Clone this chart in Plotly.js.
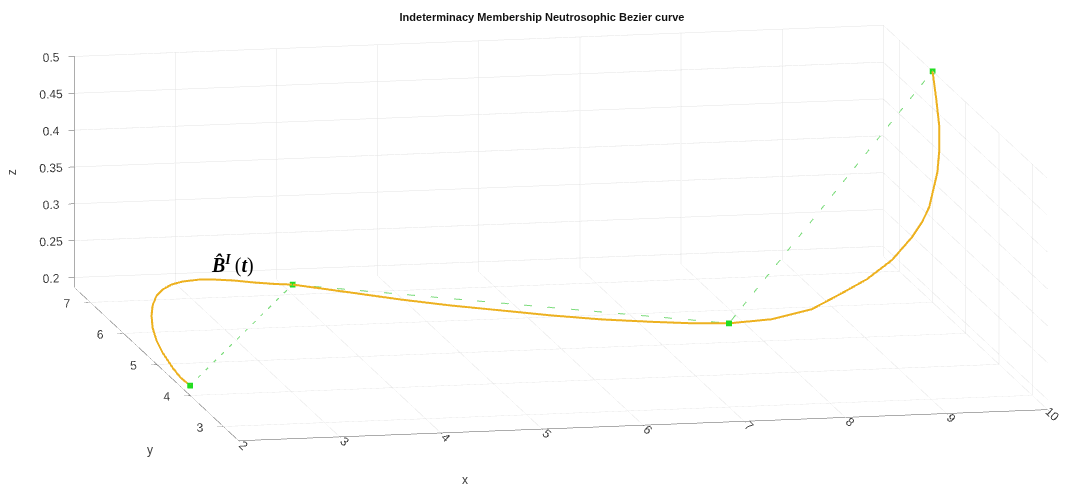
<!DOCTYPE html>
<html>
<head>
<meta charset="utf-8">
<script src="https://cdn.plot.ly/plotly-3.0.1.min.js"></script>
<style>
  html, body { margin: 0; padding: 0; background: #fff; }
  #chart { width: 1084px; height: 489px; }
</style>
</head>
<body>
<div id="chart"></div>
<script>
// Control points of the indeterminacy membership Bezier curve
const ctrlX = [2, 4, 7, 10];
const ctrlY = [4, 7, 3, 6];
const ctrlZ = [0.2, 0.2, 0.3, 0.5];

// Curve samples
const curveX = [2, 2.02, 2.05, 2.09, 2.13, 2.18, 2.25, 2.32, 2.42, 2.52, 2.65, 2.8, 3.0, 3.2, 3.45, 3.65, 3.83, 4,
  4.368, 4.687, 5.016, 5.356, 5.695, 6.045, 6.41, 6.707, 7,
  7.409, 7.818, 8.155, 8.424, 8.706, 8.945, 9.081, 9.189, 9.288, 9.387, 9.529, 9.666, 9.823, 10];
const curveY = [4, 4.348, 4.68, 5.102, 5.404, 5.677, 5.919, 6.101, 6.285, 6.407, 6.531, 6.654, 6.749, 6.904, 7.061, 7.065, 7.009, 7,
  6.382, 5.844, 5.337, 4.862, 4.386, 3.941, 3.543, 3.24, 3,
  2.961, 2.996, 3.115, 3.178, 3.283, 3.404, 3.516, 3.631, 3.812, 3.993, 4.362, 4.78, 5.347, 6];
const curveZ = [0.2, 0.1958, 0.1952, 0.1976, 0.201, 0.2069, 0.2127, 0.2183, 0.2236, 0.2261, 0.227, 0.2251, 0.2227, 0.2151, 0.2058, 0.2018, 0.2013, 0.2,
  0.2133, 0.2248, 0.2363, 0.2478, 0.2593, 0.2708, 0.2823, 0.2915, 0.3,
  0.305, 0.315, 0.33, 0.345, 0.365, 0.39, 0.405, 0.42, 0.435, 0.45, 0.465, 0.478, 0.49, 0.5];

// Axis ticks
const xTicks = [2, 3, 4, 5, 6, 7, 8, 9, 10];
const yTicks = [3, 4, 5, 6, 7];
const zTicks = [0.2, 0.25, 0.3, 0.35, 0.4, 0.45, 0.5];
const zTickText = ['0.2', '0.25', '0.3', '0.35', '0.4', '0.45', '0.5'];
const xRange = [2, 10];
const yRange = [2.54, 7.48];
const zRange = [0.1864, 0.5];

const tickFont = { family: 'Liberation Sans, Arial, sans-serif', size: 12, color: '#404040' };
const labelFont = { family: 'Liberation Sans, Arial, sans-serif', size: 12, color: '#404040' };

function axis(range, vals, text) {
  const a = {
    range: range,
    tickmode: 'array',
    tickvals: vals,
    showgrid: true,
    gridcolor: '#e3e3e3',
    gridwidth: 1,
    showline: true,
    linecolor: '#5a5a5a',
    linewidth: 1,
    ticks: 'outside',
    ticklen: 6,
    tickcolor: '#5a5a5a',
    tickfont: tickFont,
    showbackground: false,
    zeroline: false,
    showspikes: false,
    title: { text: '' }
  };
  if (text) a.ticktext = text;
  return a;
}

const traces = [
  {
    type: 'scatter3d', mode: 'lines',
    x: curveX, y: curveY, z: curveZ,
    line: { color: '#EDB120', width: 4 },
    hoverinfo: 'skip', showlegend: false
  },
  {
    type: 'scatter3d', mode: 'lines+markers',
    x: ctrlX, y: ctrlY, z: ctrlZ,
    line: { color: '#7cdc7c', width: 2, dash: 'dash' },
    marker: { color: '#22dd22', size: 3, symbol: 'square', line: { width: 0 } },
    hoverinfo: 'skip', showlegend: false
  }
];

const layout = {
  width: 1084, height: 489,
  margin: { l: 0, r: 0, t: 0, b: 0 },
  paper_bgcolor: '#fff',
  showlegend: false,
  title: {
    text: '<b>Indeterminacy Membership Neutrosophic Bezier curve</b>',
    font: { family: 'Liberation Sans, Arial, sans-serif', size: 11, color: '#111' },
    x: 0.5, xanchor: 'center', y: 0.965, yanchor: 'middle', yref: 'container'
  },
  scene: {
    domain: { x: [0, 1], y: [0, 1] },
    xaxis: axis(xRange, xTicks),
    yaxis: axis(yRange, yTicks),
    zaxis: axis(zRange, zTicks, zTickText),
    aspectmode: 'manual',
    aspectratio: { x: 3.376, y: 3.376, z: 0.9625 },
    camera: {
      projection: { type: 'orthographic' },
      up: { x: 0, y: 0, z: 1 },
      center: { x: -0.0779, y: 0.0067, z: -0.0461 },
      eye: { x: -0.86, y: -3.843, z: 0.712 }
    },
    annotations: [{
      x: 3.5, y: 7.3, z: 0.217,
      text: '<b><i>B&#770;<sup>I</sup></i></b>&#8201;(<b><i>t</i></b>)',
      showarrow: false,
      font: { family: 'Liberation Serif, Times New Roman, serif', size: 20, color: '#000' }
    }]
  },
  annotations: [
    { xref: 'paper', yref: 'paper', x: 0.429, y: 0.0184, xanchor: 'center', yanchor: 'middle',
      text: 'x', showarrow: false, font: labelFont },
    { xref: 'paper', yref: 'paper', x: 0.1384, y: 0.0798, xanchor: 'center', yanchor: 'middle',
      text: 'y', showarrow: false, font: labelFont },
    { xref: 'paper', yref: 'paper', x: 0.0111, y: 0.648, xanchor: 'center', yanchor: 'middle',
      text: 'z', showarrow: false, textangle: -90, font: labelFont }
  ]
};

Plotly.newPlot('chart', traces, layout, { displayModeBar: false, plotGlPixelRatio: 1 });
</script>
</body>
</html>
